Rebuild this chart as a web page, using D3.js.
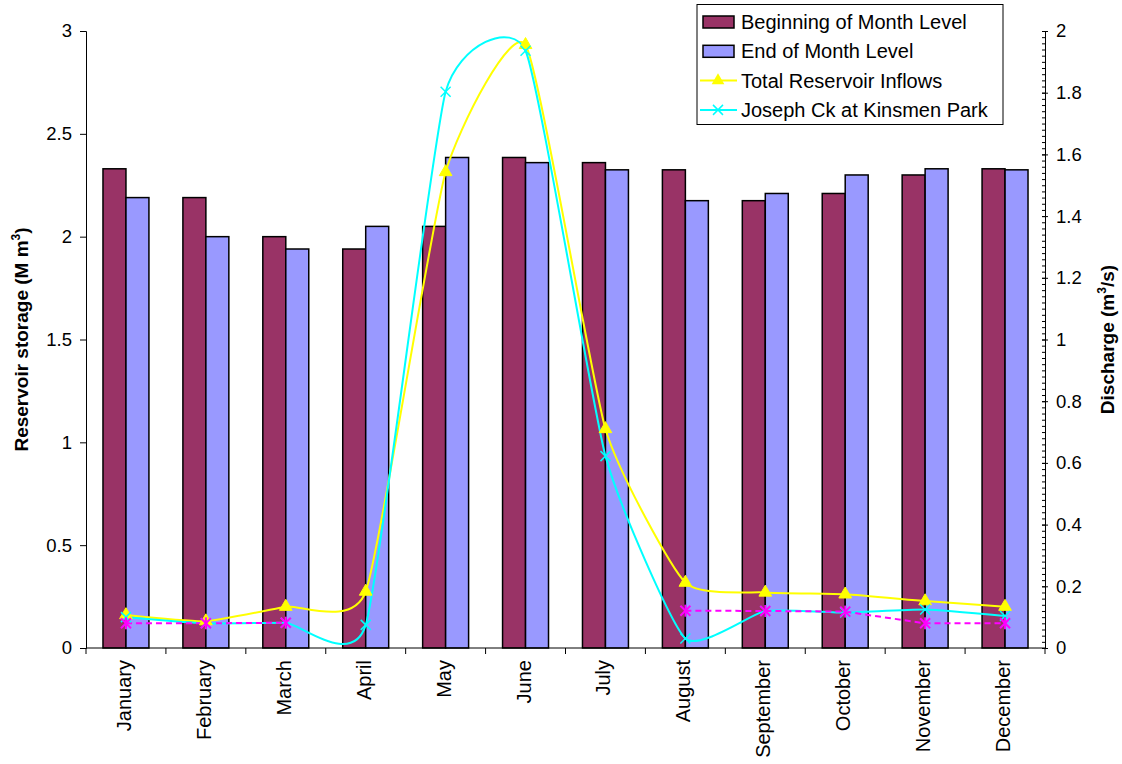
<!DOCTYPE html>
<html>
<head>
<meta charset="utf-8">
<script src="https://cdn.jsdelivr.net/npm/d3@7"></script>
<style>
  body { margin: 0; background: #fff; }
  text { font-family: "Liberation Sans", Arial, sans-serif; fill: #000; }
</style>
</head>
<body>
<svg id="chart" width="1122" height="764"></svg>
<script>
// values
var months = ["January","February","March","April","May","June","July","August","September","October","November","December"];
var beginLevel = [2.33, 2.19, 2.00, 1.94, 2.05, 2.385, 2.36, 2.325, 2.175, 2.21, 2.30, 2.33];
var endLevel   = [2.19, 2.00, 1.94, 2.05, 2.385, 2.36, 2.325, 2.175, 2.21, 2.30, 2.33, 2.325];
var totalInflow = [0.107, 0.087, 0.134, 0.183, 1.543, 1.955, 0.71, 0.212, 0.18, 0.174, 0.152, 0.134];
var josephCk    = [0.10, 0.08, 0.082, 0.075, 1.803, 1.936, 0.622, 0.031, 0.12, 0.115, 0.125, 0.104];
// the dashed magenta series has no legend entry
var unlabeled   = [0.08, 0.08, 0.082, null, null, null, null, 0.121, 0.12, 0.118, 0.08, 0.08];
var leftTicks = [0, 0.5, 1, 1.5, 2, 2.5, 3];
var rightTicks = [0, 0.2, 0.4, 0.6, 0.8, 1, 1.2, 1.4, 1.6, 1.8, 2];

var svg = d3.select("#chart");
var pLeft = 86, pRight = 1045, pTop = 31, pBottom = 648;

var x0 = d3.scaleBand().domain(months).range([pLeft, pRight]).paddingInner(0.425).paddingOuter(0.2125);
var x1 = d3.scaleBand().domain(["b","e"]).range([0, x0.bandwidth()]);
var yL = d3.scaleLinear().domain([0, 3]).range([pBottom, pTop]);
var yR = d3.scaleLinear().domain([0, 2]).range([pBottom, pTop]);
var cx = function(i){ return x0(months[i]) + x0.bandwidth()/2; };

// bars
var groups = svg.append("g").selectAll("g.month")
  .data(months)
  .enter().append("g")
  .attr("transform", d => "translate(" + x0(d) + ",0)");
groups.append("rect")
  .attr("x", x1("b")).attr("width", x1.bandwidth())
  .attr("y", (d,i) => yL(beginLevel[i])).attr("height", (d,i) => pBottom - yL(beginLevel[i]))
  .attr("fill", "#993366").attr("stroke", "#000").attr("stroke-width", 1.5);
groups.append("rect")
  .attr("x", x1("e")).attr("width", x1.bandwidth())
  .attr("y", (d,i) => yL(endLevel[i])).attr("height", (d,i) => pBottom - yL(endLevel[i]))
  .attr("fill", "#9999FF").attr("stroke", "#000").attr("stroke-width", 1.5);

// axes
svg.append("g").attr("transform", "translate(" + pLeft + ",0)")
  .call(d3.axisLeft(yL).tickValues(leftTicks).tickSize(6).tickPadding(8).tickFormat(d3.format("~g")));
var minor = d3.range(0, 101).map(d => d * 0.02);
svg.append("g").attr("transform", "translate(" + pRight + ",0)")
  .call(d3.axisLeft(yR).tickValues(minor).tickSize(3).tickFormat(""));
var axR = svg.append("g").attr("transform", "translate(" + pRight + ",0)")
  .call(d3.axisRight(yR).tickValues(rightTicks).tickSize(3).tickPadding(8).tickFormat(d => +d.toFixed(1)));
axR.selectAll(".tick line").attr("x1", -3);
svg.selectAll(".domain").attr("stroke", "#000");
svg.selectAll(".tick line").attr("stroke", "#000");
svg.selectAll(".tick text").attr("font-size", 18.5).attr("font-family", "Liberation Sans, Arial, sans-serif");

// x axis line, boundary ticks and month labels
svg.append("line").attr("x1", pLeft).attr("x2", pRight).attr("y1", pBottom).attr("y2", pBottom).attr("stroke", "#000");
svg.append("g").selectAll("line")
  .data(d3.range(0, 13))
  .enter().append("line")
  .attr("x1", d => pLeft + d * x0.step()).attr("x2", d => pLeft + d * x0.step())
  .attr("y1", pBottom).attr("y2", pBottom + 6).attr("stroke", "#000");
svg.append("g").selectAll("text")
  .data(months)
  .enter().append("text")
  .attr("transform", (d,i) => "translate(" + (cx(i) + 5) + "," + (pBottom + 12) + ") rotate(-90)")
  .attr("text-anchor", "end")
  .attr("font-size", 20)
  .text(d => d);

// axis titles
var tl = svg.append("text")
  .attr("transform", "translate(28," + ((pTop + pBottom)/2) + ") rotate(-90)")
  .attr("text-anchor", "middle").attr("font-size", 19).attr("font-weight", "bold");
tl.append("tspan").text("Reservoir storage (M m");
tl.append("tspan").attr("dy", -8).attr("font-size", 12).text("3");
tl.append("tspan").attr("dy", 8).text(")");
var tr = svg.append("text")
  .attr("transform", "translate(1114," + ((pTop + pBottom)/2) + ") rotate(-90)")
  .attr("text-anchor", "middle").attr("font-size", 19).attr("font-weight", "bold");
tr.append("tspan").text("Discharge (m");
tr.append("tspan").attr("dy", -8).attr("font-size", 12).text("3");
tr.append("tspan").attr("dy", 8).text("/s)");

// line series (Excel style smoothing)
var smooth = d3.line().x(d => cx(d[0])).y(d => yR(d[1])).curve(d3.curveCardinal.tension(0.5));
var pairs = function(arr){ return arr.map((v,i) => [i, v]); };

svg.append("path").datum(pairs(totalInflow))
  .attr("d", smooth).attr("fill", "none").attr("stroke", "#FFFF00").attr("stroke-width", 2);
svg.append("path").datum(pairs(josephCk))
  .attr("d", smooth).attr("fill", "none").attr("stroke", "#00FFFF").attr("stroke-width", 2);

var straight = d3.line().defined(d => d[1] != null).x(d => cx(d[0])).y(d => yR(d[1]));
svg.append("path").datum(pairs(unlabeled))
  .attr("d", straight).attr("fill", "none").attr("stroke", "#FF00FF")
  .attr("stroke-width", 2).attr("stroke-dasharray", "6,4");

// markers
var tri = d3.symbol().type(d3.symbolTriangle).size(70);
svg.append("g").selectAll("path")
  .data(pairs(totalInflow))
  .enter().append("path")
  .attr("d", tri)
  .attr("transform", d => "translate(" + cx(d[0]) + "," + yR(d[1]) + ")")
  .attr("fill", "#FFFF00").attr("stroke", "#FFFF00");

function cross(g, data, color, star) {
  var m = g.selectAll("g").data(data.filter(d => d[1] != null))
    .enter().append("g")
    .attr("transform", d => "translate(" + cx(d[0]) + "," + yR(d[1]) + ")")
    .attr("stroke", color).attr("stroke-width", star ? 2 : 1.5);
  m.append("line").attr("x1", -5).attr("y1", -5).attr("x2", 5).attr("y2", 5);
  m.append("line").attr("x1", -5).attr("y1", 5).attr("x2", 5).attr("y2", -5);
  if (star) m.append("line").attr("x1", 0).attr("y1", -6).attr("x2", 0).attr("y2", 6);
}
cross(svg.append("g"), pairs(josephCk), "#00FFFF", false);
cross(svg.append("g"), pairs(unlabeled), "#FF00FF", true);

// legend
var legendItems = [
  {name: "Beginning of Month Level", kind: "bar", color: "#993366"},
  {name: "End of Month Level", kind: "bar", color: "#9999FF"},
  {name: "Total Reservoir Inflows", kind: "tri", color: "#FFFF00"},
  {name: "Joseph Ck at Kinsmen Park", kind: "x", color: "#00FFFF"}
];
var lg = svg.append("g");
lg.append("rect").attr("x", 697).attr("y", 4.5).attr("width", 306).attr("height", 120)
  .attr("fill", "#fff").attr("stroke", "#000");
var rows = lg.selectAll("g.item").data(legendItems)
  .enter().append("g")
  .attr("transform", (d,i) => "translate(0," + (22 + i * 29.3) + ")");
rows.filter(d => d.kind == "bar").append("rect")
  .attr("x", 703).attr("y", -6).attr("width", 31).attr("height", 12)
  .attr("fill", d => d.color).attr("stroke", "#000").attr("stroke-width", 1.5);
rows.filter(d => d.kind != "bar").append("line")
  .attr("x1", 700).attr("x2", 737).attr("stroke", d => d.color).attr("stroke-width", 2);
rows.filter(d => d.kind == "tri").append("path")
  .attr("d", tri).attr("transform", "translate(718,0)").attr("fill", "#FFFF00");
var xi = rows.filter(d => d.kind == "x").append("g").attr("stroke", "#00FFFF").attr("stroke-width", 1.5);
xi.append("line").attr("x1", 713).attr("y1", -5).attr("x2", 723).attr("y2", 5);
xi.append("line").attr("x1", 713).attr("y1", 5).attr("x2", 723).attr("y2", -5);
rows.append("text").attr("x", 741).attr("y", 7).attr("font-size", 20).text(d => d.name);
</script>
</body>
</html>
